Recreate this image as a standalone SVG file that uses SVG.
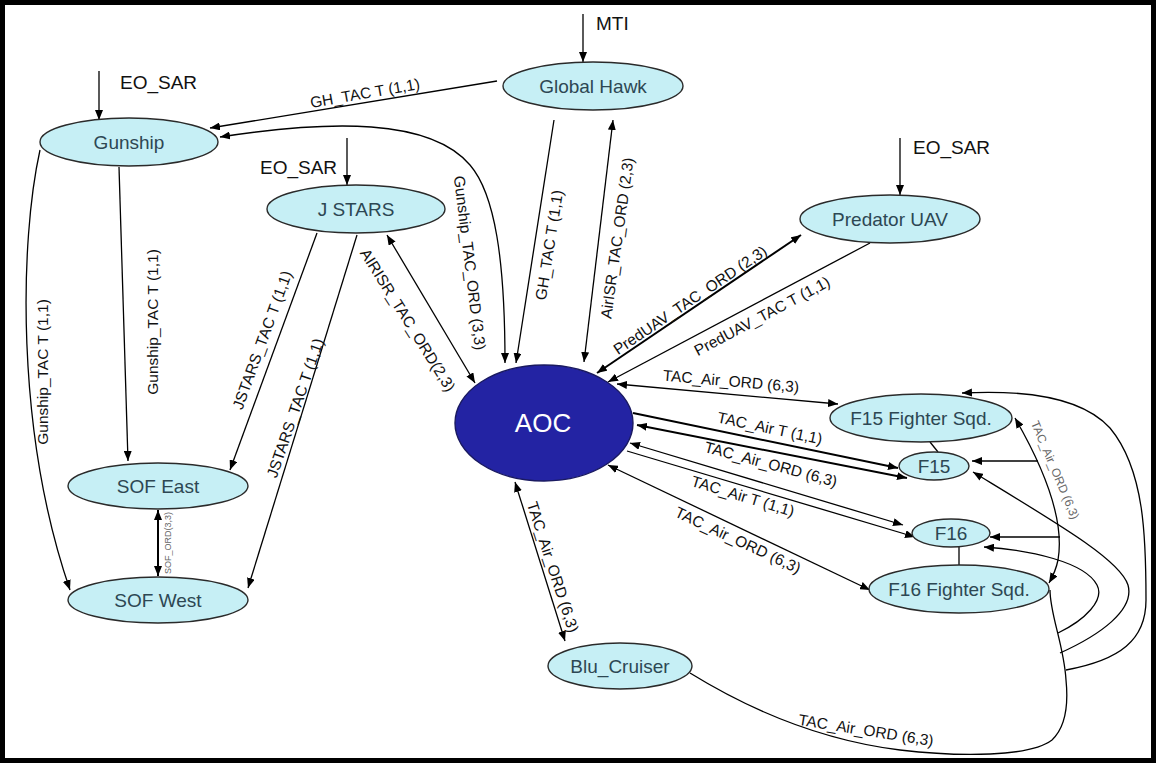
<svg xmlns="http://www.w3.org/2000/svg" width="1156" height="763" viewBox="0 0 1156 763">
<defs>
<marker id="ah" viewBox="0 0 10 8" refX="10" refY="4" markerWidth="10" markerHeight="8" markerUnits="userSpaceOnUse" orient="auto-start-reverse"><path d="M0,0 L10,4 L0,8 z" fill="#000"/></marker>
<style>
.n{fill:#c6eff5;stroke:#2a2a2a;stroke-width:1.4}
.nt{font-family:"Liberation Sans",Arial,sans-serif;font-size:19px;fill:#2d4753;text-anchor:middle}
.c{fill:none;stroke:#000;stroke-width:1.3}
.b{stroke-width:2}
.e{marker-end:url(#ah)}
.s{marker-start:url(#ah)}
.l{font-family:"Liberation Sans",Arial,sans-serif;font-size:15.5px;fill:#111;text-anchor:middle}
.in{font-family:"Liberation Sans",Arial,sans-serif;font-size:19px;fill:#111}
.g{font-family:"Liberation Sans",Arial,sans-serif;fill:#666;text-anchor:middle}
</style>
</defs>
<rect x="0" y="0" width="1156" height="763" fill="#fff"/>
<rect x="2.5" y="2.5" width="1151" height="758" fill="none" stroke="#000" stroke-width="5"/>

<g id="connectors">
<path class="c e" d="M583,14 L583,62"/>
<path class="c e" d="M99,71 L99,120"/>
<path class="c e" d="M347,138 L347,185"/>
<path class="c e" d="M900,138 L900,195"/>
<path class="c e" d="M497,81 L210,128"/>
<path class="c s e" d="M220,137 C330,120 430,118 470,165 C495,194 505,260 505,363"/>
<path class="c e" d="M554,120 L516,363"/>
<path class="c s e" d="M584,362 L613,120"/>
<path class="c s e" d="M387,235 L475,383"/>
<path class="c e" d="M317,233 L230,470"/>
<path class="c e" d="M357,235 L248,588"/>
<path class="c e" d="M119,167 L128,461"/>
<path class="c e" d="M40,150 C20,240 15,430 70,590"/>
<path class="c b s e" d="M158,510 L158,576"/>
<path class="c b s e" d="M597,373 L801,235"/>
<path class="c e" d="M870,243 L608,382"/>
<path class="c s e" d="M617,384 L838,404"/>
<path class="c b e" d="M633,413 L898,468"/>
<path class="c b s e" d="M637,425 L907,478"/>
<path class="c s e" d="M630,443 L903,525"/>
<path class="c e" d="M627,451 L915,537"/>
<path class="c s e" d="M608,465 L870,590"/>
<path class="c s e" d="M515,482 L565,641"/>
<path class="c" d="M930,442 L938,452"/>
<path class="c" d="M959,547 L959,566"/>
<path class="c s e" d="M1015,418 C1045,470 1065,520 1058,560 C1056,570 1053,576 1049,583"/>
<path class="c" d="M690,673 C750,710 820,740 900,750 C960,757 1030,757 1052,740 C1068,725 1068,700 1066,680 C1064,645 1050,615 1050,590"/>
<path class="c e" d="M1038,461 L972,461"/>
<path class="c e" d="M1060,537 L990,537"/>
<path class="c e" d="M1058,633 C1085,620 1105,600 1097,585 C1085,562 1030,550 984,547"/>
<path class="c e" d="M1060,653 C1100,635 1135,610 1128,585 C1120,560 1060,525 973,472"/>
<path class="c e" d="M1066,670 C1120,660 1146,640 1146,600 C1146,540 1145,470 1110,428 C1080,395 1020,390 962,393"/>
</g>

<g id="labels">
<text class="in" x="596" y="30">MTI</text>
<text class="in" x="120" y="89">EO_SAR</text>
<text class="in" x="260" y="174">EO_SAR</text>
<text class="in" x="913" y="154">EO_SAR</text>
<text class="l" transform="translate(365,93) rotate(-10)" y="5.5">GH_TAC T (1,1)</text>
<text class="l" transform="translate(470,263) rotate(83)" y="5.5">Gunship_TAC_ORD (3,3)</text>
<text class="l" transform="translate(549,245) rotate(-81)" y="5.5">GH_TAC T (1,1)</text>
<text class="l" transform="translate(617,238) rotate(-82)" y="5.5">AirISR_TAC_ORD (2,3)</text>
<text class="l" transform="translate(408,320) rotate(58)" y="5.5">AIRISR_TAC_ORD(2,3)</text>
<text class="l" transform="translate(262,340) rotate(-70)" y="5.5">JSTARS_TAC T (1,1)</text>
<text class="l" transform="translate(295,408) rotate(-71)" y="5.5">JSTARS_TAC T (1,1)</text>
<text class="l" transform="translate(152,322) rotate(-90)" y="5.5">Gunship_TAC T (1,1)</text>
<text class="l" transform="translate(42,372) rotate(-90)" y="5.5">Gunship_TAC T (1,1)</text>
<text class="g" font-size="9" transform="translate(168,543) rotate(-90)" y="3">SOF_ORD(3,3)</text>
<text class="l" transform="translate(690,300) rotate(-34)" y="5.5">PredUAV_TAC_ORD (2,3)</text>
<text class="l" transform="translate(762,316) rotate(-28)" y="5.5">PredUAV_TAC T (1,1)</text>
<text class="l" transform="translate(731,381) rotate(5)" y="5.5">TAC_Air_ORD (6,3)</text>
<text class="l" transform="translate(770,428) rotate(12)" y="5.5">TAC_Air T (1,1)</text>
<text class="l" transform="translate(771,464) rotate(15)" y="5.5">TAC_Air_ORD (6,3)</text>
<text class="l" transform="translate(743,496) rotate(17)" y="5.5">TAC_Air T (1,1)</text>
<text class="l" transform="translate(738,540) rotate(25)" y="5.5">TAC_Air_ORD (6,3)</text>
<text class="l" transform="translate(553,567) rotate(72)" y="5.5">TAC_Air_ORD (6,3)</text>
<text class="g" font-size="12" transform="translate(1055,470) rotate(67)" y="4">TAC_Air_ORD (6,3)</text>
<text class="l" transform="translate(866,730) rotate(9)" y="5.5">TAC_Air_ORD (6,3)</text>
</g>

<g id="gunship"><ellipse class="n" cx="129" cy="142" rx="89" ry="24"/><text class="nt" x="129" y="149">Gunship</text></g>
<g id="global-hawk"><ellipse class="n" cx="593" cy="86" rx="90" ry="24"/><text class="nt" x="593" y="93">Global Hawk</text></g>
<g id="jstars"><ellipse class="n" cx="356" cy="209" rx="89" ry="24"/><text class="nt" x="356" y="216">J STARS</text></g>
<g id="predator-uav"><ellipse class="n" cx="890" cy="219" rx="90" ry="24"/><text class="nt" x="890" y="226">Predator UAV</text></g>
<g id="sof-east"><ellipse class="n" cx="158" cy="486" rx="90" ry="23"/><text class="nt" x="158" y="493">SOF East</text></g>
<g id="sof-west"><ellipse class="n" cx="158" cy="600" rx="90" ry="23"/><text class="nt" x="158" y="607">SOF West</text></g>
<g id="aoc"><ellipse cx="544" cy="423" rx="89" ry="58" fill="#2323a3" stroke="#1a1a60" stroke-width="1.4"/><text x="543" y="432" font-family="'Liberation Sans',Arial,sans-serif" font-size="26" fill="#fff" text-anchor="middle">AOC</text></g>
<g id="f15-sqd"><ellipse class="n" cx="921" cy="418" rx="91" ry="24"/><text class="nt" x="921" y="425">F15 Fighter Sqd.</text></g>
<g id="f15"><ellipse class="n" cx="934" cy="466" rx="35" ry="14"/><text class="nt" x="934" y="473">F15</text></g>
<g id="f16"><ellipse class="n" cx="951" cy="533" rx="39" ry="14"/><text class="nt" x="951" y="540">F16</text></g>
<g id="f16-sqd"><ellipse class="n" cx="959" cy="589" rx="90" ry="24"/><text class="nt" x="959" y="596">F16 Fighter Sqd.</text></g>
<g id="blu-cruiser"><ellipse class="n" cx="620" cy="666" rx="72" ry="23"/><text class="nt" x="620" y="673">Blu_Cruiser</text></g>
</svg>
